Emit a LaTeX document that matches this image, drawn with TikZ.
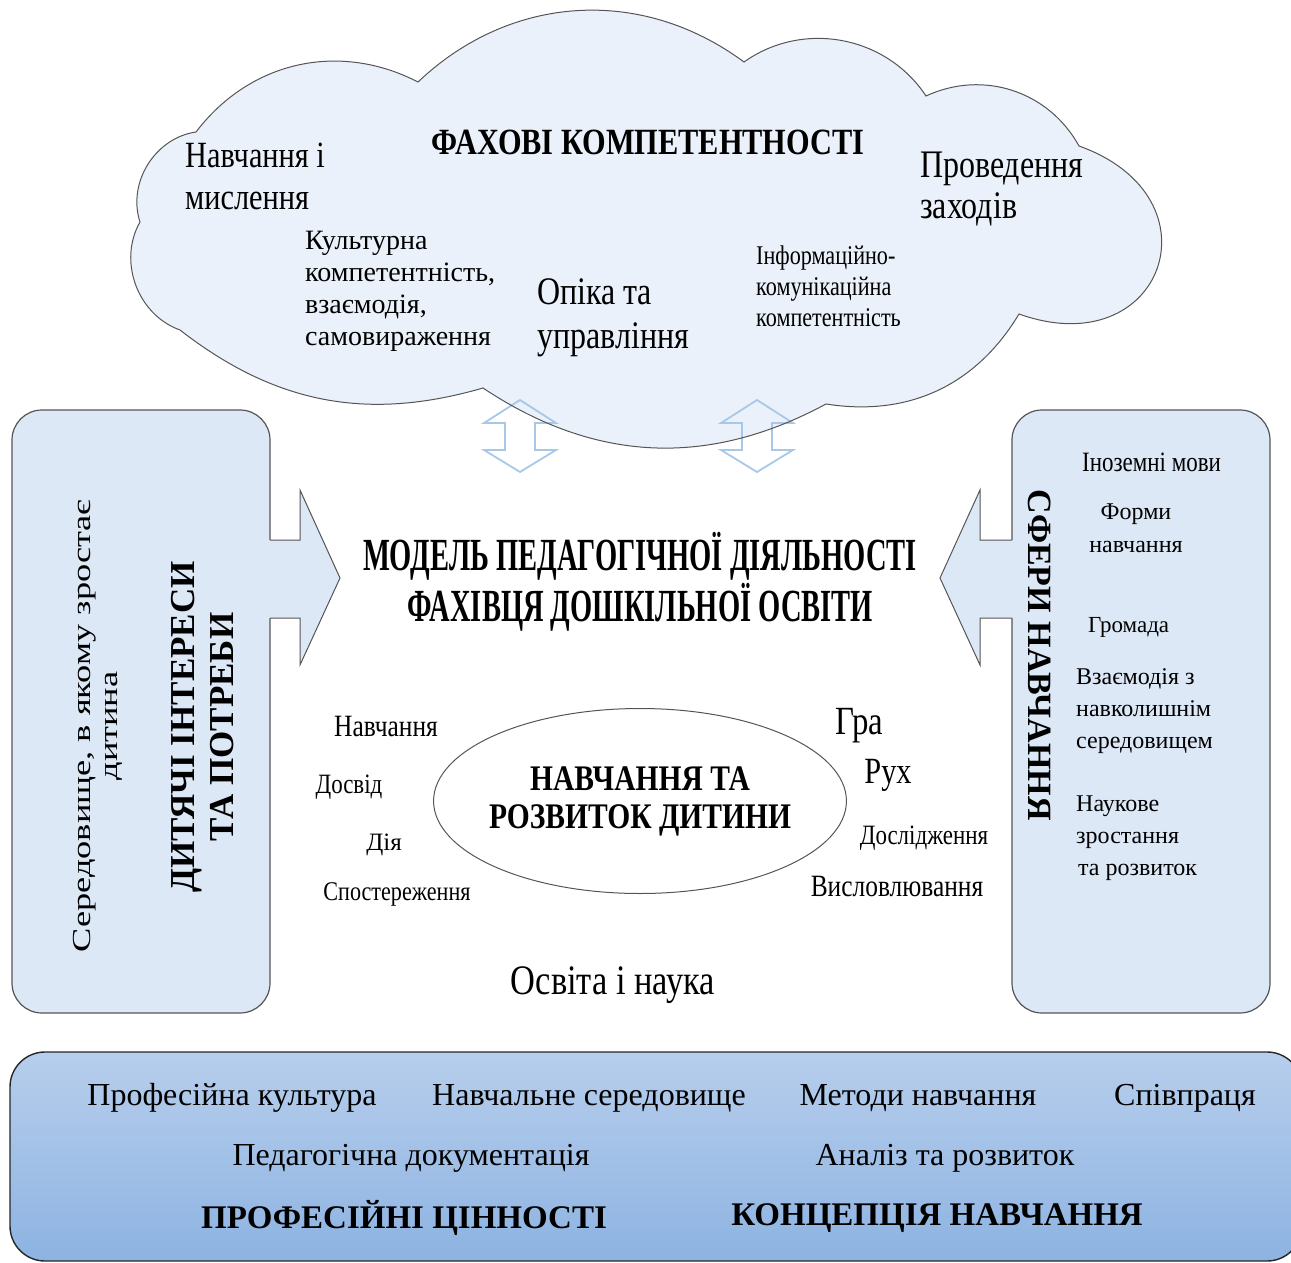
\documentclass[tikz,border=0pt]{standalone}
\usepackage{fontspec}
\setmainfont{Liberation Serif}
\newfontfamily\narrowfont{Liberation Serif}[FakeStretch=0.82]
\newfontfamily\narrowerfont{Liberation Serif}[FakeStretch=0.62]
\newfontfamily\widefont{Liberation Serif}[FakeStretch=1.4]
\usetikzlibrary{shapes.geometric}
\definecolor{cloudblue}{HTML}{EAF1FA}
\definecolor{boxblue}{HTML}{DCE8F6}
\definecolor{hollowblue}{HTML}{A7C8E8}
\definecolor{bandtop}{HTML}{B7CEEC}
\definecolor{bandbottom}{HTML}{8DB3E2}
\definecolor{edgegray}{HTML}{555555}
\newcommand{\fsz}[2]{\fontsize{#1}{#2}\selectfont}
\newcommand{\cloudoutline}{(196,132) to[bend left=40] (418,82) to[bend left=40] (744,62)
        to[bend left=46] (926,96) to[bend left=43] (1079,146)
        to[bend left=90, looseness=2.2] (1019,314) to[bend left=34] (826,404)
        to[bend left=31] (483,388) to[bend left=27] (180,330)
        to[bend left=50] (140,222) to[bend left=50] (196,132) -- cycle}

\begin{document}
\begin{tikzpicture}[x=1pt, y=-1pt,
        every node/.style={inner sep=0pt},
        sidebox/.style={draw=edgegray, line width=1.2pt, fill=boxblue, rounded corners=30pt},
        lbl/.style={anchor=west, align=left},
        tag/.style={font=\narrowfont\fsz{#1}{#1}}]
    \useasboundingbox (0,0) rectangle (1291,1263);
    % cloud of competences
    \fill [cloudblue] \cloudoutline;
    \foreach \cx in {520,757}
        \draw [hollowblue, line width=1.8pt] (\cx,400) -- (\cx+36,423) -- (\cx+15,423) -- (\cx+15,450)
            -- (\cx+36,450) -- (\cx,472) -- (\cx-36,450) -- (\cx-15,450) -- (\cx-15,423) -- (\cx-36,423) -- cycle;
    \draw [edgegray, line width=1pt] \cloudoutline;
    \node [font=\narrowfont\bfseries\fsz{37}{42}] (competences) at (648,142) {ФАХОВІ КОМПЕТЕНТНОСТІ};
    \node [lbl, font=\narrowfont\fsz{37}{42}] (thinking) at (185,176) {Навчання і\\мислення};
    \node [lbl, font=\narrowfont\fsz{39}{41}] (events) at (920,189) {Проведення\\заходів};
    \node [lbl, font=\fsz{28}{32}] (culture) at (305,291) {Культурна\\компетентність,\\взаємодія,\\самовираження};
    \node [lbl, font=\narrowfont\fsz{39}{44}] (care) at (537,318) {Опіка та\\управління};
    \node [lbl, font=\narrowfont\fsz{27}{31}] (ict) at (756,286) {Інформаційно-\\комунікаційна\\компетентність};

    % side boxes with block arrows
    \node [sidebox, minimum width=258pt, minimum height=603pt] (envbox) at (141,711.5) {};
    \node [sidebox, minimum width=258pt, minimum height=603pt] (areabox) at (1141,711.5) {};
    \fill [boxblue] (268,540) -- (300,540) -- (300,490) -- (340,578) -- (300,665) -- (300,618) -- (268,618) -- cycle;
    \draw [edgegray, line width=1pt] (270,540) -- (300,540) -- (300,490) -- (340,578) -- (300,665) -- (300,618) -- (270,618);
    \fill [boxblue] (1014,540) -- (980,540) -- (980,490) -- (940,578) -- (980,665) -- (980,618) -- (1014,618) -- cycle;
    \draw [edgegray, line width=1pt] (1012,540) -- (980,540) -- (980,490) -- (940,578) -- (980,665) -- (980,618) -- (1012,618);
    \node [rotate=90, align=center, font=\widefont\fsz{26}{27}] (environment) at (98,726) {Середовище, в якому зростає\\дитина};
    \node [rotate=90, align=center, font=\bfseries\fsz{35}{39}] (interests) at (203,727) {ДИТЯЧІ ІНТЕРЕСИ\\ТА ПОТРЕБИ};
    \node [rotate=-90, font=\bfseries\fsz{34}{38}] (areas) at (1040,655) {СФЕРИ НАВЧАННЯ};
    \node [lbl, font=\narrowfont\fsz{28}{32}] (languages) at (1082,462) {Іноземні мови};
    \node [align=center, font=\fsz{24}{33}] (forms) at (1136,528) {Форми\\навчання};
    \node [lbl, font=\fsz{23}{32}] (community) at (1088,627) {Громада};
    \node [lbl, font=\fsz{24}{32}] (surroundings) at (1076,711) {Взаємодія з\\навколишнім\\середовищем};
    \node [lbl, font=\fsz{24}{32}] (science) at (1076,838) {Наукове\\зростання\\\hspace*{2pt}та розвиток};

    % model in the middle
    \node [align=center, font=\narrowerfont\bfseries\fsz{46}{51}] (model) at (640,582)
        {МОДЕЛЬ ПЕДАГОГІЧНОЇ ДІЯЛЬНОСТІ\\ФАХІВЦЯ ДОШКІЛЬНОЇ ОСВІТИ};
    \node [draw=edgegray, line width=1pt, ellipse, inner xsep=-5pt, minimum height=185pt,
           align=center, font=\narrowfont\bfseries\fsz{36}{38}] (child) at (640,801)
        {НАВЧАННЯ ТА\\РОЗВИТОК ДИТИНИ};
    \path
        (386,726) node [tag=31] (learning) {Навчання}
        (349,787) node [tag=28] (experience) {Досвід}
        (384,845) node [font=\fsz{25}{27}] (action) {Дія}
        (397,894) node [tag=27] (observation) {Спостереження}
        (859,726) node [tag=40] (play) {Гра}
        (888,775) node [tag=37] (movement) {Рух}
        (924,838) node [tag=28] (research) {Дослідження}
        (897,886) node [tag=31] (expression) {Висловлювання}
        (613,985) node [tag=42] (education) {Освіта і наука};

    % band of values and concepts
    \draw [draw=black!85, line width=1.4pt, top color=bandtop, bottom color=bandbottom, rounded corners=35pt]
        (10,1052) rectangle (1302,1261);
    \path [font=\fsz{32}{34}]
        (232,1098) node (culturepro) {Професійна культура}
        (589,1098) node (setting) {Навчальне середовище}
        (918,1098) node (methods) {Методи навчання}
        (1185,1098) node (cooperation) {Співпраця}
        (411,1158) node (documents) {Педагогічна документація}
        (945,1158) node (analysis) {Аналіз та розвиток}
        (404,1218) node [font=\bfseries\fsz{33}{35}] (values) {ПРОФЕСІЙНІ ЦІННОСТІ}
        (937,1218) node [font=\bfseries\fsz{33}{35}] (concept) {КОНЦЕПЦІЯ НАВЧАННЯ};
\end{tikzpicture}
\end{document}
